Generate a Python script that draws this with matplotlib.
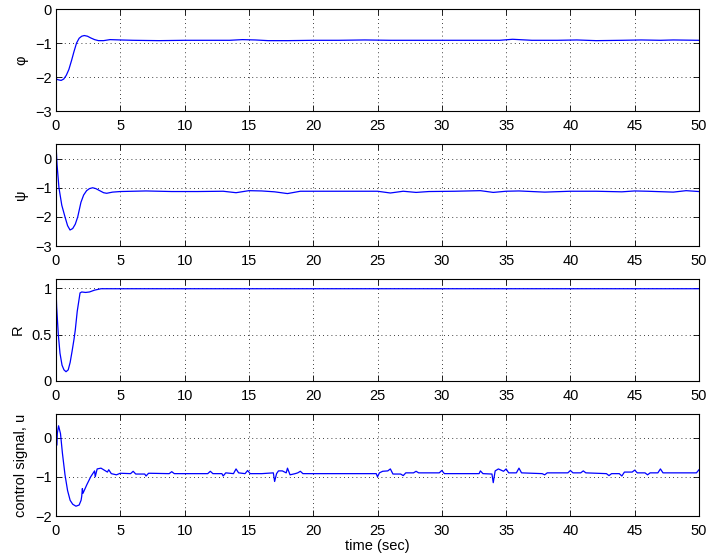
import matplotlib
matplotlib.use("Agg")
import matplotlib.pyplot as plt

# time samples and values
t_phi = [0, 0.15, 0.4, 0.6, 0.8, 1.0, 1.22, 1.4, 1.6, 1.8, 2.0, 2.2, 2.45, 2.7, 3.0, 3.3,
         3.7, 4.2, 5, 6, 8, 10, 12, 13.5, 14.5, 15.5, 16.5, 18, 20, 22, 24, 26, 28, 30, 32,
         34.5, 35.5, 37, 39, 40.5, 42, 44, 45.5, 47, 48, 50]
phi = [-2.05, -2.08, -2.1, -2.06, -1.95, -1.78, -1.5, -1.25, -1.0, -0.86, -0.8, -0.78, -0.8,
       -0.85, -0.9, -0.93, -0.93, -0.9, -0.91, -0.92, -0.93, -0.92, -0.92, -0.92, -0.9, -0.91,
       -0.93, -0.93, -0.92, -0.92, -0.91, -0.92, -0.92, -0.92, -0.92, -0.92, -0.89, -0.92,
       -0.92, -0.91, -0.93, -0.92, -0.91, -0.92, -0.91, -0.92]

t_psi = [0, 0.08, 0.23, 0.45, 0.7, 0.9, 1.09, 1.3, 1.5, 1.69, 1.94, 2.15, 2.38, 2.6, 2.85,
         3.1, 3.4, 3.7, 3.94, 4.4, 5, 7, 9, 11, 13, 14, 15, 16, 17, 18, 19, 21, 23, 25, 26, 27,
         28, 29, 31, 33, 34, 35, 36, 38, 40, 42, 44, 45, 46, 48, 49, 50]
psi = [0.5, -0.2, -1.0, -1.6, -2.0, -2.3, -2.45, -2.4, -2.25, -2.0, -1.5, -1.25, -1.1, -1.03,
       -1.0, -1.03, -1.1, -1.17, -1.19, -1.15, -1.13, -1.11, -1.13, -1.13, -1.12, -1.17, -1.1,
       -1.11, -1.14, -1.2, -1.12, -1.12, -1.12, -1.12, -1.18, -1.12, -1.16, -1.13, -1.12, -1.1,
       -1.16, -1.12, -1.11, -1.15, -1.12, -1.12, -1.14, -1.11, -1.12, -1.15, -1.1, -1.13]

t_R = [0, 0.05, 0.18, 0.31, 0.47, 0.62, 0.78, 0.95, 1.1, 1.25, 1.4, 1.5, 1.65, 1.87, 2.0,
       2.3, 2.6, 3.0, 3.5, 10, 20, 30, 40, 50]
R = [1.0, 0.8, 0.5, 0.3, 0.17, 0.12, 0.1, 0.12, 0.2, 0.32, 0.45, 0.55, 0.75, 0.95, 0.96,
     0.955, 0.96, 0.98, 0.995, 0.995, 0.995, 0.995, 0.995, 0.995]

t_u = [0, 0.05, 0.1, 0.2, 0.35, 0.5, 0.7, 0.9, 1.1, 1.3, 1.55, 1.8, 1.95, 2.0, 2.05, 2.1,
       2.4, 2.7, 2.9, 3.0, 3.05, 3.2, 3.5, 3.8, 4.0, 4.1, 4.3, 4.7, 5, 5.8, 6.0, 6.2, 6.9,
       7.0, 7.2, 8.8, 9.0, 9.2, 11.8, 12.0, 12.2, 12.9, 13.0, 13.2, 13.8, 14.0, 14.2, 14.7,
       14.9, 15.1, 16.0, 16.9, 17.0, 17.15, 17.3, 17.6, 17.9, 18.0, 18.2, 18.6, 18.8, 19.0,
       19.2, 21, 23, 24.9, 25.0, 25.15, 25.4, 25.8, 26.0, 26.2, 26.8, 27.0, 27.2, 27.8, 28.0,
       28.2, 29, 29.8, 30.0, 30.2, 32, 32.9, 33.0, 33.2, 33.9, 34.0, 34.15, 34.4, 34.8, 35.0,
       35.2, 35.8, 36.0, 36.2, 37.8, 38.0, 38.2, 39.8, 40.0, 40.2, 40.8, 41.0, 41.2, 42.8,
       43.0, 43.2, 43.8, 44.0, 44.2, 44.8, 45.0, 45.2, 45.8, 46.0, 46.2, 46.8, 47.0, 47.2,
       49.8, 50]
u = [0.6, -0.2, 0.1, 0.3, 0.1, -0.4, -0.95, -1.35, -1.6, -1.7, -1.75, -1.72, -1.6, -1.5,
     -1.3, -1.42, -1.2, -1.0, -0.9, -0.85, -1.0, -0.8, -0.78, -0.84, -0.88, -0.82, -0.92, -0.95,
     -0.91, -0.92, -0.86, -0.93, -0.93, -0.98, -0.91, -0.92, -0.87, -0.92, -0.92, -0.86, -0.92,
     -0.92, -0.98, -0.9, -0.92, -0.8, -0.9, -0.92, -0.84, -0.92, -0.92, -0.9, -1.12, -0.92,
     -0.85, -0.85, -0.9, -0.78, -0.95, -0.92, -0.9, -0.86, -0.92, -0.92, -0.92, -0.92, -1.0,
     -0.9, -0.86, -0.85, -0.8, -0.93, -0.93, -0.97, -0.9, -0.9, -0.86, -0.9, -0.9, -0.9, -0.84,
     -0.92, -0.92, -0.92, -0.85, -0.92, -0.93, -1.15, -0.85, -0.8, -0.86, -0.8, -0.9, -0.9,
     -0.78, -0.9, -0.92, -0.95, -0.9, -0.9, -0.84, -0.9, -0.9, -0.85, -0.9, -0.92, -0.97,
     -0.92, -0.92, -0.98, -0.88, -0.88, -0.83, -0.9, -0.9, -0.95, -0.9, -0.9, -0.8, -0.9,
     -0.9, -0.82]

series = [(t_phi, phi, "\u03c6", (-3, 0), [0, -1, -2, -3]),
          (t_psi, psi, "\u03c8", (-3, 0.5), [0, -1, -2, -3]),
          (t_R, R, "R", (0, 1.1), [0, 0.5, 1]),
          (t_u, u, "control signal, u", (-2, 0.6), [0, -1, -2])]

plt.rcParams["font.family"] = ["Liberation Sans", "DejaVu Sans"]
plt.rcParams["font.size"] = 10.5

fig = plt.figure(figsize=(7.07, 5.57), dpi=100)
bottoms = [0.8007, 0.5583, 0.3160, 0.0736]

for (tt, yy, lab, ylim, yt), b in zip(series, bottoms):
    ax = fig.add_axes([0.0792, b, 0.9095, 0.1831])
    ax.plot(tt, yy, color="blue", lw=0.9)
    ax.set_xlim(0, 50)
    ax.set_ylim(*ylim)
    ax.set_xticks(range(0, 51, 5))
    ax.set_yticks(yt)
    ax.set_yticklabels([f"{v:g}".replace("-", "\u2212") for v in yt])
    ax.grid(True, color="black", linestyle=(0, (1, 4)), linewidth=0.6)
    ax.tick_params(direction="in", top=True, right=True, length=4, width=0.6)
    ax.tick_params(axis="x", pad=5.5)
    ax.tick_params(axis="y", pad=3)
    for s in ax.spines.values():
        s.set_linewidth(0.8)
    ax.set_ylabel(lab, labelpad=5)
    if lab.startswith("control"):
        ax.set_xlabel("time (sec)", labelpad=1)

fig.savefig("out.png", dpi=100)
